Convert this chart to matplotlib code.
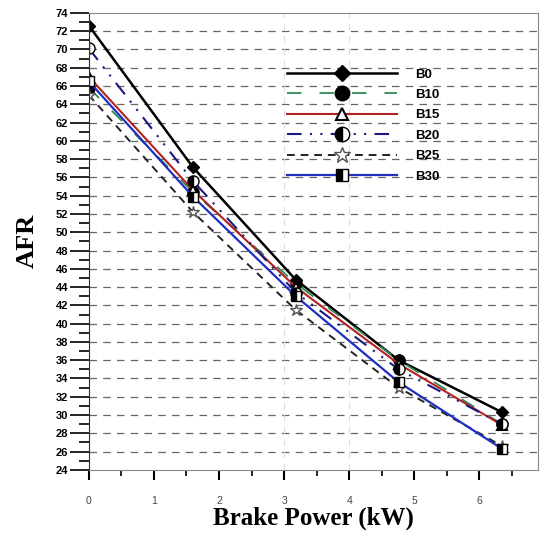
import numpy as np
import matplotlib.pyplot as plt
from matplotlib.ticker import MultipleLocator

# Potencia al freno (kW) y AFR por mezcla
potencia = [0, 1.6, 3.18, 4.76, 6.35]
B0  = [72.6, 57.1, 44.8, 36.0, 30.3]
B10 = [65.8, 54.4, 44.4, 36.0, 29.0]
B15 = [67.0, 54.6, 44.0, 35.6, 28.9]
B20 = [70.1, 55.6, 43.4, 35.0, 29.0]
B25 = [65.0, 52.2, 41.5, 33.0, 26.6]
B30 = [66.5, 53.9, 43.0, 33.6, 26.3]

plt.rcParams['font.family'] = ['Liberation Sans', 'DejaVu Sans']

fig = plt.figure(figsize=(5.45, 5.34), dpi=100)
ax = fig.add_axes([0.163, 0.12, 0.824, 0.856])

# rejilla
for y in np.arange(26, 73, 2):
    ax.axhline(y, color='#666666', ls=(0, (6, 5)), lw=0.9, zorder=0)
for x in [3, 4]:
    ax.axvline(x, color='#dddddd', ls=(0, (6, 5)), lw=0.8, zorder=0)

ax.plot(potencia, B0, color='black', lw=1.8, marker='D', ms=6, mfc='black', mec='black', label='B0')
ax.plot(potencia, B10, color='#2e8b57', lw=1.3, ls=(0, (8, 10)), marker='o', ms=8, mfc='black', mec='black', label='B10')
ax.plot(potencia, B15, color='#b22222', lw=1.5, marker='^', ms=7, mfc='white', mec='black', mew=1.5, label='B15')
ax.plot(potencia, B20, color='#1a1a80', lw=1.5, ls=(0, (7, 4, 1, 4, 1, 4)), marker='o', ms=8, fillstyle='left',
        mfc='black', mfcalt='white', mec='black', label='B20')
ax.plot(potencia, B25, color='#222222', lw=1.4, ls=(0, (4, 3)), marker='*', ms=9, mfc='white', mec='#555555', label='B25')
ax.plot(potencia, B30, color='#1f2fbf', lw=1.6, marker='s', ms=7, fillstyle='left',
        mfc='black', mfcalt='white', mec='black', label='B30')

ax.set_xlim(0, 6.9)
ax.set_ylim(24, 74)
ax.xaxis.set_major_locator(MultipleLocator(1))
ax.xaxis.set_minor_locator(MultipleLocator(0.5))
ax.yaxis.set_major_locator(MultipleLocator(2))
ax.yaxis.set_minor_locator(MultipleLocator(1))
ax.tick_params(axis='y', which='major', length=14, width=1.2, labelsize=8, pad=1)
ax.tick_params(axis='y', which='minor', length=7, width=1.2)
ax.tick_params(axis='x', which='major', length=7, width=1.5, labelsize=7.5, labelcolor='#444444', pad=12)
ax.tick_params(axis='x', which='minor', length=4, width=1.2)
for t in ax.get_yticklabels():
    t.set_fontweight('bold')
for s in ax.spines.values():
    s.set_color('#888888')
ax.spines['left'].set_color('#333333')

ax.set_xlabel('Brake Power (kW)', fontsize=18, fontweight='bold', family='Liberation Serif', labelpad=0)
ax.set_ylabel('AFR', fontsize=19, fontweight='bold', family='Liberation Serif', labelpad=12)

leg = ax.legend(loc='upper left', bbox_to_anchor=(0.43, 0.89), frameon=False, handlelength=8.3,
                fontsize=9.5, labelspacing=0.62, handletextpad=1.4, borderaxespad=0, markerscale=1.3)
for t in leg.get_texts():
    t.set_fontweight('bold')

plt.savefig('out.png', dpi=100)
